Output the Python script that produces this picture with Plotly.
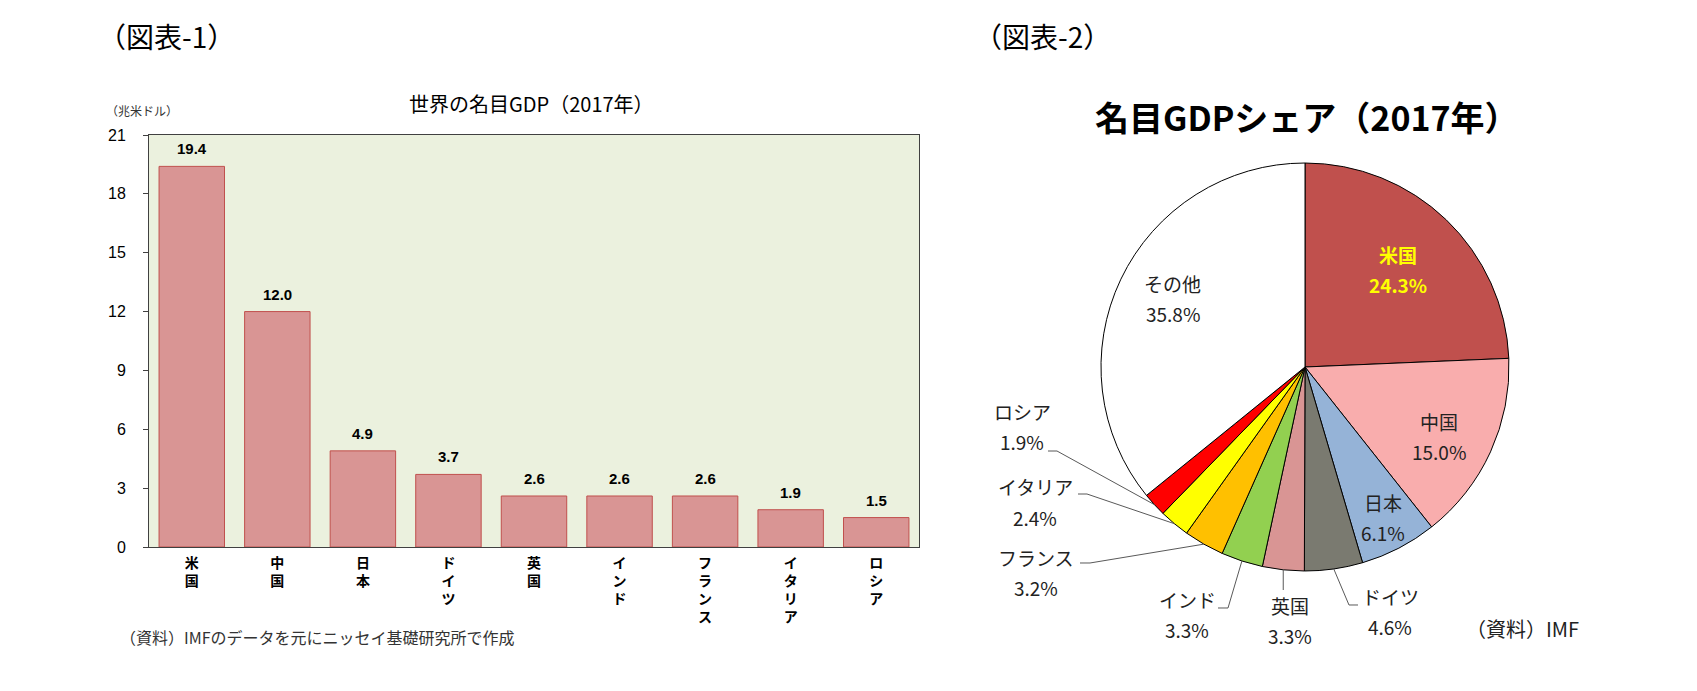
import math
import plotly.graph_objects as go

# ---------------- data ----------------
bar_categories = ["米国", "中国", "日本", "ドイツ", "英国", "インド", "フランス", "イタリア", "ロシア"]
bar_values = [19.4, 12.0, 4.9, 3.7, 2.6, 2.6, 2.6, 1.9, 1.5]
y_ticks = [0, 3, 6, 9, 12, 15, 18, 21]

pie_labels = ["米国", "中国", "日本", "ドイツ", "英国", "インド", "フランス", "イタリア", "ロシア", "その他"]
pie_values = [24.3, 15.0, 6.1, 4.6, 3.3, 3.3, 3.2, 2.4, 1.9, 35.8]
pie_colors = ["#C0504D", "#F9ADAD", "#95B3D7", "#7A7A70", "#D99594",
              "#92D050", "#FFC000", "#FFFF00", "#FF0000", "#FFFFFF"]

# ---------------- layout helpers ----------------
W, H = 1697, 691
def px(x):
    return x / W
def py(y):
    return 1 - y / H

JP = "Noto Sans CJK JP"
SANS = "Liberation Sans, Noto Sans CJK JP"

fig = go.Figure()

def text_at(x, y, text, font, xanchor="center", yanchor="middle", align="center"):
    fig.add_annotation(x=px(x), y=py(y), xref="paper", yref="paper", text=text,
                       showarrow=False, xanchor=xanchor, yanchor=yanchor,
                       align=align, font=font)

# ---------------- bar chart ----------------
fig.add_trace(go.Bar(
    x=bar_categories, y=bar_values,
    marker=dict(color="#D99594", line=dict(color="#C0504D", width=1)),
    xaxis="x", yaxis="y", showlegend=False, hoverinfo="x+y",
))
for c, v in zip(bar_categories, bar_values):
    fig.add_annotation(x=c, y=v, xref="x", yref="y", text=f"<b>{v:.1f}</b>",
                       showarrow=False, xanchor="center", yanchor="bottom", yshift=7,
                       font=dict(family=SANS, size=15, color="#000000"))

# ---------------- pie chart ----------------
cx, cy, R = 1305, 367, 204
fig.add_trace(go.Pie(
    labels=pie_labels, values=pie_values, sort=False, direction="clockwise",
    rotation=0, textinfo="none",
    marker=dict(colors=pie_colors, line=dict(color="#000000", width=1)),
    domain=dict(x=[px(cx - R), px(cx + R)], y=[py(cy + R), py(cy - R)]),
    showlegend=False, hoverinfo="label+percent",
))

total = sum(pie_values)
mid_angle = {}
acc = 0.0
for lab, v in zip(pie_labels, pie_values):
    mid_angle[lab] = (acc + v / 2) / total * 2 * math.pi
    acc += v

def pie_point(lab, rfrac, dang=0.0):
    a = mid_angle[lab] + math.radians(dang)
    return cx + math.sin(a) * R * rfrac, cy - math.cos(a) * R * rfrac

def pct_of(lab):
    return pie_values[pie_labels.index(lab)]

LBL = 19
GAP = 15  # half of the line pitch

# inside labels: radius fraction, angular nudge (deg), colour, bold
inside = {
    "米国": (0.66, 0, "#FFFF00", True),
    "中国": (0.74, 3, "#222222", False),
    "日本": (0.83, 0, "#222222", False),
    "その他": (0.73, 2, "#222222", False),
}
for lab, (rf, da, col, bold) in inside.items():
    x, y = pie_point(lab, rf, da)
    name, pct = lab, f"{pct_of(lab):.1f}%"
    if bold:
        name, pct = f"<b>{name}</b>", f"<b>{pct}</b>"
    text_at(x, y - GAP, name, dict(family=JP, size=LBL, color=col))
    text_at(x, y + GAP, pct, dict(family=JP, size=LBL, color=col))

# outside labels: text centre (px) and leader elbow points (px)
outside = {
    "ロシア":   dict(text=(1022, 427), elbow=[(1048, 451), (1057, 451)]),
    "イタリア": dict(text=(1035, 502), elbow=[(1078, 494), (1087, 494)]),
    "フランス": dict(text=(1036, 572), elbow=[(1080, 563), (1090, 563)]),
    "インド":   dict(text=(1187, 614), elbow=[(1218, 608), (1228, 608)]),
    "英国":     dict(text=(1290, 620), elbow=None),
    "ドイツ":   dict(text=(1390, 611), elbow=[(1358, 605), (1349, 605)]),
}
for lab, d in outside.items():
    tx, ty = d["text"]
    text_at(tx, ty - GAP, lab, dict(family=JP, size=LBL, color="#222222"))
    text_at(tx, ty + GAP, f"{pct_of(lab):.1f}%", dict(family=JP, size=LBL, color="#222222"))
    ex, ey = pie_point(lab, 1.0)
    if d["elbow"] is None:
        pts = [(ex, ey), (ex, 590)]
    else:
        pts = d["elbow"] + [(ex, ey)]
    path = "M " + " L ".join(f"{px(a):.5f},{py(b):.5f}" for a, b in pts)
    fig.add_shape(type="path", path=path, xref="paper", yref="paper",
                  line=dict(color="#595959", width=1))

# ---------------- texts ----------------
text_at(166, 36, "（図表-1）", dict(family=JP, size=28, color="#000"))
text_at(1042, 36, "（図表-2）", dict(family=JP, size=28, color="#000"))
text_at(531, 104, "世界の名目GDP（2017年）", dict(family=JP, size=20, color="#000"))
text_at(142, 110, "（兆米ドル）", dict(family=JP, size=12, color="#333"))
text_at(118, 637, "（資料）IMFのデータを元にニッセイ基礎研究所で作成",
        dict(family=JP, size=16, color="#333"), xanchor="left")
text_at(1307, 117, "<b>名目GDPシェア（2017年）</b>", dict(family=JP, size=34, color="#000"))
text_at(1522, 628, "（資料）IMF", dict(family=JP, size=20, color="#222"))

fig.update_layout(
    width=W, height=H,
    margin=dict(l=0, r=0, t=0, b=0, autoexpand=False),
    paper_bgcolor="#FFFFFF",
    plot_bgcolor="#EBF1DE",
    bargap=0.235,
    xaxis=dict(domain=[px(149), px(919)], anchor="y",
               tickvals=bar_categories,
               ticktext=["<br>".join(list(c)) for c in bar_categories],
               tickfont=dict(family=JP, size=14, color="#000", weight="bold"),
               ticklabelstandoff=3, automargin=False,
               showline=True, linecolor="#404040", mirror=True, linewidth=1,
               ticks="", showgrid=False, zeroline=False),
    yaxis=dict(domain=[py(547), py(135)], anchor="x", range=[0, 21],
               tickvals=y_ticks, ticks="outside", ticklen=5, tickcolor="#404040",
               tickfont=dict(family=SANS, size=16, color="#000"),
               ticklabelstandoff=14, automargin=False,
               showline=True, linecolor="#404040", mirror=True, linewidth=1,
               showgrid=False, zeroline=False),
)

fig.write_html("out.html", config={"displayModeBar": False},
               post_script="document.body.style.margin='0px';")
